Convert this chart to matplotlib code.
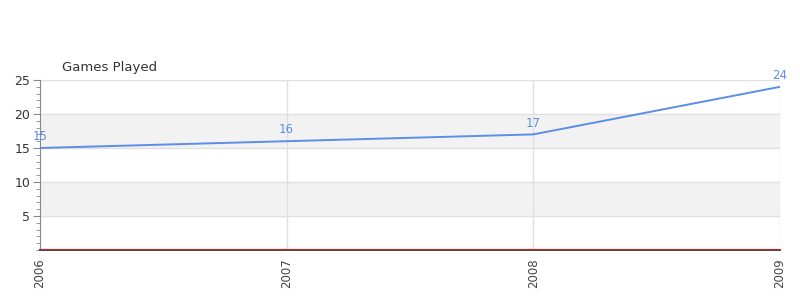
import numpy as np
import matplotlib
matplotlib.use('Agg')
import matplotlib.pyplot as plt
import matplotlib.transforms as mtransforms
from matplotlib.ticker import MultipleLocator

years = ['2006', '2007', '2008', '2009']
games_played = [15, 16, 17, 24]
baseline = [0, 0, 0, 0]
y_ticks = [5, 10, 15, 20, 25]

line_color = '#5b8ee6'

fig = plt.figure(figsize=(8, 3), dpi=100)
ax = fig.add_axes([0.05, 1 - 250/300, 0.925, 170/300])

x = np.arange(len(years))
ax.set_xlim(x[0], x[-1])
ax.set_ylim(0, 25)

# alternating bands
for lo, hi in [(5, 10), (15, 20)]:
    ax.axhspan(lo, hi, color='#f2f2f2', zorder=0, lw=0)
for yv in y_ticks:
    ax.axhline(yv, color='#e0e0e0', lw=1, zorder=1)
for xv in x[1:]:
    ax.axvline(xv, color='#e0e0e0', lw=1, zorder=1)

ax.plot(x, games_played, color=line_color, lw=1.4, zorder=4)
for xi, v in zip(x, games_played):
    ax.annotate(str(v), (xi, v), xytext=(0, 3.5), textcoords='offset points',
                ha='center', va='bottom', fontsize=8.5, color=line_color)

ax.set_xticks(x)
ax.set_xticklabels(years, rotation=90, fontsize=8.5, color='#444444')
ax.set_yticks(y_ticks)
ax.set_yticklabels([str(v) for v in y_ticks], fontsize=9, color='#333333')
ax.yaxis.set_minor_locator(MultipleLocator(1))
ax.tick_params(axis='y', which='major', length=5, color='#888888', pad=2)
ax.tick_params(axis='y', which='minor', length=3, color='#888888')
ax.tick_params(axis='x', length=0, pad=6)

for side in ['top', 'right']:
    ax.spines[side].set_visible(False)
ax.spines['left'].set_color('#888888')
ax.spines['bottom'].set_color('#444444')
ax.spines['bottom'].set_linewidth(1.4)

# red zero series, sitting just above the axis line
shifted = mtransforms.offset_copy(ax.transData, fig=fig, x=0, y=0.8,
                                  units='points')
ax.plot(x, baseline, color='#cc2222', lw=0.8, zorder=5, clip_on=False,
        transform=shifted)

fig.text(62/800, 1 - 67/300, 'Games Played', fontsize=9.5, color='#333333',
         va='center', ha='left')

fig.savefig('out.png', dpi=100)
